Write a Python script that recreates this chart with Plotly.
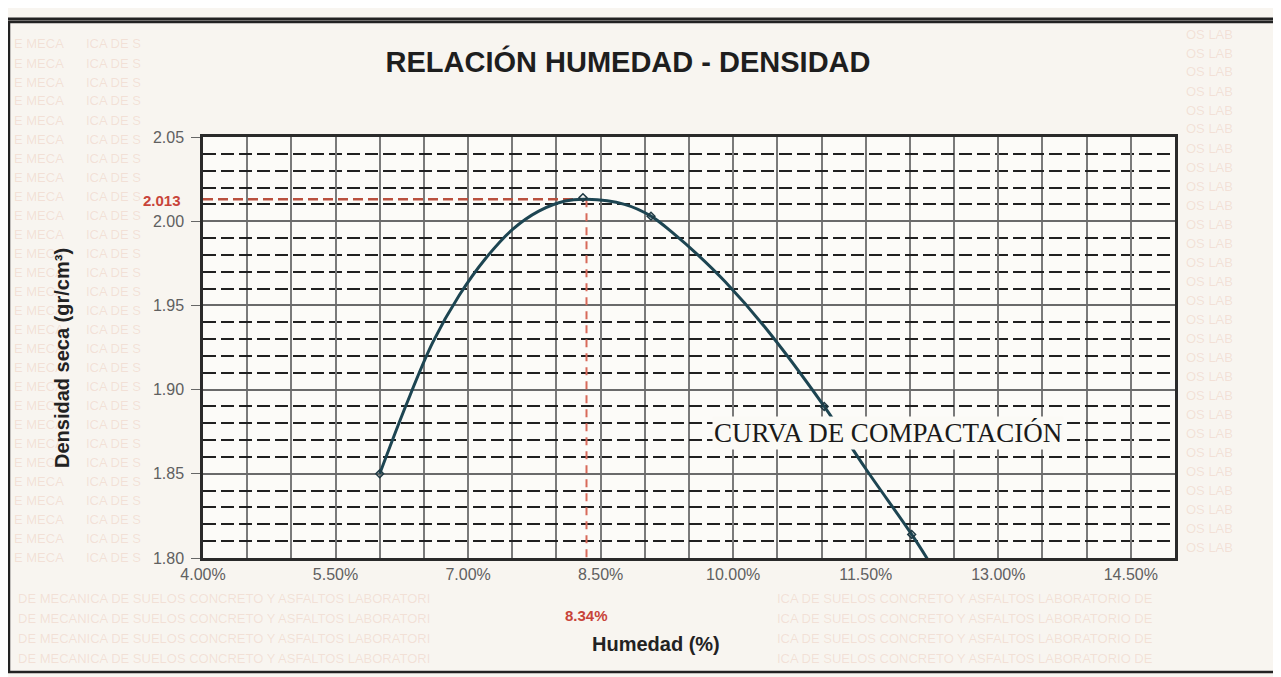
import plotly.graph_objects as go

# puntos del ensayo (humedad %, densidad seca gr/cm3)
humedad = [6.00, 8.30, 9.07, 11.03, 12.02]
densidad = [1.850, 2.014, 2.003, 1.890, 1.814]

# curva de compactacion
curva_x = [6.00, 6.30, 6.60, 6.90, 7.20, 7.50, 7.80, 8.10, 8.34, 8.77, 9.07, 9.34,
           9.60, 9.91, 10.36, 11.03, 11.50, 12.02, 12.25]
curva_y = [1.850, 1.891, 1.928, 1.956, 1.978, 1.995, 2.006, 2.012, 2.013, 2.010, 2.003, 1.992,
           1.980, 1.964, 1.937, 1.890, 1.853, 1.814, 1.795]

# maxima densidad seca y optimo contenido de humedad
mds = 2.013
och = 8.34

x_ticks = [4.0, 5.5, 7.0, 8.5, 10.0, 11.5, 13.0, 14.5]
y_ticks = [1.80, 1.85, 1.90, 1.95, 2.00, 2.05]

# la pagina tiene un margen de 8px, la figura se dibuja desde (8, 8)
OFF = 8
W, H = 1281 - OFF, 677 - OFF
# area de trazado en pixeles de la pagina
L, R, T, B = 203, 1175, 137, 558


def px(x, y):
    # pixel de la pagina -> coordenadas paper
    return (x - L) / (R - L), (B - y) / (B - T)


fig = go.Figure()

# lineas rojas de MDS / OCH
fig.add_trace(go.Scatter(x=[4.0, och], y=[mds, mds], mode="lines",
                         line=dict(color="#b9503e", width=2.5, dash="10px,5px"),
                         hoverinfo="skip", showlegend=False))
fig.add_trace(go.Scatter(x=[och, och], y=[mds, 1.80], mode="lines",
                         line=dict(color="#d86a5a", width=2, dash="8px,6px"),
                         hoverinfo="skip", showlegend=False))

fig.add_trace(go.Scatter(x=curva_x, y=curva_y, mode="lines",
                         line=dict(color="#1d4552", width=3, shape="spline", smoothing=1.0),
                         name="Curva", showlegend=False))
fig.add_trace(go.Scatter(x=humedad, y=densidad, mode="markers",
                         marker=dict(symbol="diamond-open", size=6, color="#1f3a44",
                                     line=dict(width=1.5)),
                         name="Ensayo", showlegend=False))

tick_font = dict(family="Liberation Sans, Arial", size=16, color="#606060")

fig.update_xaxes(
    range=[4.0, 15.0], tickvals=x_ticks, ticktext=[f"{v:.2f}%" for v in x_ticks],
    showgrid=True, gridcolor="#7a7a7a", gridwidth=1.6,
    minor=dict(dtick=0.5, tick0=4.0, showgrid=True, gridcolor="#7a7a7a", gridwidth=1.6),
    showline=True, linecolor="#2a2a2a", linewidth=2.5, mirror=True,
    ticks="", tickfont=tick_font, zeroline=False,
)
fig.update_yaxes(
    range=[1.80, 2.05], tickvals=y_ticks, ticktext=[f"{v:.2f}" for v in y_ticks],
    showgrid=True, gridcolor="#6a6a6a", gridwidth=1.8,
    minor=dict(dtick=0.01, tick0=1.80, showgrid=True, gridcolor="#202020",
               gridwidth=2.4, griddash="13px,5px"),
    showline=True, linecolor="#2a2a2a", linewidth=2.5, mirror=True,
    ticks="outside", ticklen=9, tickcolor="#666", tickfont=tick_font, zeroline=False,
    ticklabelstandoff=4,
)

annotations = []


def note(x, y, text, size=14, color="#222", **kw):
    xp, yp = px(x, y)
    kw.setdefault("xanchor", "center")
    kw.setdefault("yanchor", "middle")
    annotations.append(dict(x=xp, y=yp, xref="paper", yref="paper", showarrow=False,
                            text=text, font=dict(family="Liberation Sans", size=size,
                                                 color=color), **kw))


# marca de agua del papel escaneado
wm = "DE MECANICA DE SUELOS CONCRETO Y ASFALTOS LABORATORIO "
wm_color = "rgba(222,150,125,0.22)"
for i in range(28):
    yy = 44 + i * 19
    note(12, yy, "E MECA", size=13, color=wm_color, xanchor="left")
    note(84, yy, "ICA DE S", size=13, color=wm_color, xanchor="left")
    note(1184, yy - 10, "OS LAB", size=13, color=wm_color, xanchor="left")
for i in range(4):
    yy = 598 + i * 20
    note(16, yy, (wm * 2)[:52], size=13, color=wm_color, xanchor="left")
    note(775, yy, (wm * 2)[8:56], size=13, color=wm_color, xanchor="left")

# etiquetas rojas
note(162, 200, f"<b>{mds:.3f}</b>", size=15, color="#c8443a")
annotations.append(dict(x=och, y=px(0, 615)[1], xref="x", yref="paper", showarrow=False,
                        xanchor="center", yanchor="middle", text=f"<b>{och:.2f}%</b>",
                        font=dict(family="Liberation Sans", size=15, color="#c8443a")))

# titulos de ejes
note(62, 358, "<b>Densidad seca (gr/cm³)</b>", size=20, color="#222", textangle=-90)
note(656, 644, "<b>Humedad (%)</b>", size=20, color="#222")

# leyenda de la curva
note(888, 433, "CURVA DE COMPACTACIÓN", size=27, color="#1a1a1a", bgcolor="#fbfaf6")
annotations[-1]["font"]["family"] = "Liberation Serif, Times New Roman"

fig.update_layout(
    width=W, height=H,
    margin=dict(l=L - OFF, r=W - (R - OFF), t=T - OFF, b=H - (B - OFF), autoexpand=False),
    paper_bgcolor="#f8f5f0",
    plot_bgcolor="#fcfbf8",
    title=dict(text="<b>RELACIÓN HUMEDAD - DENSIDAD</b>", x=(628 - OFF) / W,
               y=1 - (62 - OFF) / H,
               xref="container", yref="container", xanchor="center", yanchor="middle",
               font=dict(family="Liberation Sans, Arial", size=29, color="#1e1e1e")),
    annotations=annotations,
    shapes=[
        dict(type="rect", xref="paper", yref="paper",
             x0=px(9, 0)[0], x1=px(1277, 0)[0], y0=px(0, 672)[1], y1=px(0, 22)[1],
             line=dict(color="#222", width=2.5), layer="below"),
        dict(type="line", xref="paper", yref="paper",
             x0=px(OFF, 0)[0], x1=px(1281, 0)[0], y0=px(0, 19)[1], y1=px(0, 19)[1],
             line=dict(color="#222", width=3)),
    ],
)

fig.write_html("out.html")
